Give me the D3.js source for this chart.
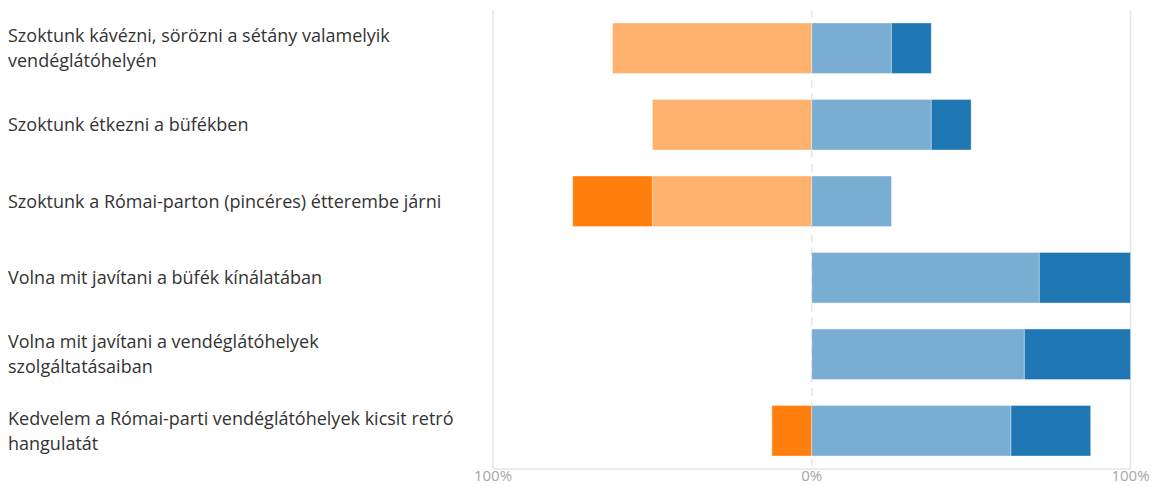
<!DOCTYPE html>
<html>
<head>
<meta charset="utf-8">
<script src="https://cdn.jsdelivr.net/npm/d3@7"></script>
<style>
  body { margin: 0; background: #fff; }
  svg { display: block; font-family: "Open Sans", sans-serif; }
</style>
</head>
<body>
<svg id="chart"></svg>
<script>
// Categories (each entry is one label, split into its display lines)
const categories = [
    ["Szoktunk kávézni, sörözni a sétány valamelyik", "vendéglátóhelyén"],
    ["Szoktunk étkezni a büfékben"],
    ["Szoktunk a Római-parton (pincéres) étterembe járni"],
    ["Volna mit javítani a büfék kínálatában"],
    ["Volna mit javítani a vendéglátóhelyek", "szolgáltatásaiban"],
    ["Kedvelem a Római-parti vendéglátóhelyek kicsit retró", "hangulatát"]
];

// Share of answers per category, in percent
const strong_negative = [0, 0, 25, 0, 0, 12.5];
const negative = [62.5, 50, 50, 0, 0, 0];
const positive = [25, 37.5, 25, 71.4, 66.7, 62.5];
const strong_positive = [12.5, 12.5, 0, 28.6, 33.3, 25];

// Axis ticks and their labels
const tick_values = [-100, 0, 100];
const tick_labels = ["100%", "0%", "100%"];

// Chart dimensions
const width = 1156, height = 486;
const margins = { top: 10, right: 25, bottom: 17, left: 493 };
const chart_width = 1130.5 - margins.left;
const chart_height = height - margins.top - margins.bottom;
const label_size = 18;

// Build the stacked rows: negatives grow left from 0, positives grow right
const rows = categories.map((c, i) => {
    const key = c.join(" ");
    const segs = [];
    let left = -negative[i];
    segs.push({ key: key, x0: left, x1: 0, color: "#ffb26e" });
    segs.push({ key: key, x0: left - strong_negative[i], x1: left, color: "#ff7f0e" });
    let right = positive[i];
    segs.push({ key: key, x0: 0, x1: right, color: "#79add2" });
    segs.push({ key: key, x0: right, x1: right + strong_positive[i], color: "#1f77b4" });
    return { key: key, lines: c, segs: segs.filter(s => s.x1 - s.x0 > 0) };
});

// Scales
const x_scale = d3.scaleLinear()
    .domain([-100, 100])
    .range([0, chart_width]);
const y_scale = d3.scaleBand()
    .domain(rows.map(d => d.key))
    .range([0, chart_height])
    .paddingInner(0.34)
    .paddingOuter(0.17);

const svg = d3.select("#chart")
    .attr("width", width)
    .attr("height", height);

const g = svg.append("g")
    .attr("transform", `translate(${margins.left}, ${margins.top})`);

// Vertical grid lines (zero line is dashed)
g.selectAll(".grid")
    .data(tick_values)
    .enter()
    .append("line")
    .attr("class", "grid")
    .attr("x1", d => x_scale(d))
    .attr("x2", d => x_scale(d))
    .attr("y1", 0)
    .attr("y2", chart_height)
    .attr("stroke", "#e6e6e6")
    .attr("stroke-width", 1.5)
    .attr("stroke-dasharray", d => d === 0 ? "8,6" : null);

// Bottom axis line
g.append("line")
    .attr("x1", x_scale(-100))
    .attr("x2", x_scale(100))
    .attr("y1", chart_height)
    .attr("y2", chart_height)
    .attr("stroke", "#e6e6e6")
    .attr("stroke-width", 1.5);

// Bars
const bar_groups = g.selectAll(".row")
    .data(rows)
    .enter()
    .append("g")
    .attr("class", "row")
    .attr("transform", d => `translate(0, ${y_scale(d.key)})`);

bar_groups.selectAll("rect")
    .data(d => d.segs)
    .enter()
    .append("rect")
    .attr("x", d => x_scale(d.x0))
    .attr("width", d => x_scale(d.x1) - x_scale(d.x0))
    .attr("y", 0)
    .attr("height", y_scale.bandwidth())
    .attr("fill", d => d.color)
    .attr("stroke", "#ffffff")
    .attr("stroke-opacity", 0.35)
    .attr("stroke-width", 1);

// Category labels on the left
const label_groups = svg.selectAll(".label")
    .data(rows)
    .enter()
    .append("text")
    .attr("class", "label")
    .attr("x", 8)
    .attr("y", d => margins.top + y_scale(d.key) + y_scale.bandwidth() / 2)
    .style("font-size", label_size + "px")
    .style("fill", "#333");

label_groups.selectAll("tspan")
    .data(d => d.lines.map((l, i) => ({ text: l, i: i, n: d.lines.length })))
    .enter()
    .append("tspan")
    .attr("x", 8)
    .attr("dy", d => d.i === 0 ? `${0.35 * label_size - (d.n - 1) * 12.5}px` : "25px")
    .text(d => d.text);

// Tick labels
svg.selectAll(".tick-label")
    .data(tick_values)
    .enter()
    .append("text")
    .attr("class", "tick-label")
    .attr("x", (d) => margins.left + x_scale(d))
    .attr("y", margins.top + chart_height + 12)
    .attr("text-anchor", "middle")
    .style("font-size", "15px")
    .style("fill", "#a6a6a6")
    .text((d, i) => tick_labels[i]);
</script>
</body>
</html>
